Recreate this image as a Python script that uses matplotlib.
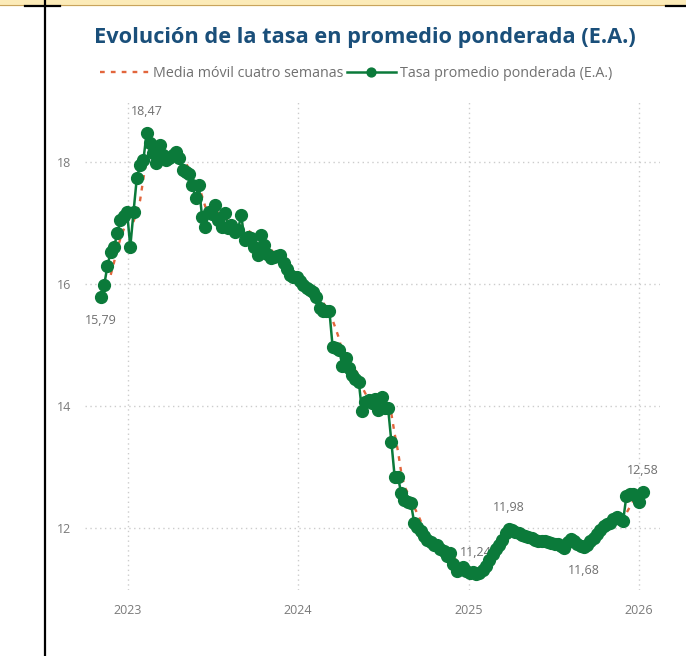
import matplotlib
matplotlib.use("Agg")
import matplotlib.pyplot as plt
import matplotlib.dates as mdates
import pandas as pd

plt.rcParams['font.family'] = ['Open Sans', 'DejaVu Sans']

# weekly weighted average rate (E.A.)
start_date = '2022-11-04'
tasa = [
    15.79, 15.98, 16.30, 16.53, 16.60, 16.83, 17.05, 17.12, 17.19, 16.61,
    17.19, 17.74, 17.95, 18.03, 18.47, 18.31, 18.15, 17.98, 18.28, 18.11,
    18.03, 18.06, 18.12, 18.17, 18.06, 17.87, 17.84, 17.80, 17.62, 17.41,
    17.62, 17.10, 16.94, 17.19, 17.15, 17.30, 17.05, 16.94, 17.16, 16.92,
    16.97, 16.86, 16.89, 17.13, 16.72, 16.78, 16.75, 16.61, 16.48, 16.80,
    16.64, 16.50, 16.42, 16.44, 16.46, 16.48, 16.35, 16.25, 16.15, 16.12,
    16.12, 16.05, 15.98, 15.93, 15.90, 15.87, 15.79, 15.60, 15.55, 15.55,
    15.56, 14.97, 14.95, 14.92, 14.66, 14.78, 14.62, 14.51, 14.45, 14.40,
    13.91, 14.07, 14.10, 14.05, 14.12, 13.93, 14.15, 13.96, 13.96, 13.41,
    12.84, 12.84, 12.57, 12.46, 12.42, 12.40, 12.08, 12.02, 11.94, 11.86,
    11.80, 11.76, 11.72, 11.72, 11.66, 11.62, 11.53, 11.58, 11.40, 11.29,
    11.33, 11.36, 11.30, 11.26, 11.28, 11.24, 11.26, 11.31, 11.38, 11.47,
    11.57, 11.65, 11.72, 11.80, 11.92, 11.98, 11.96, 11.93, 11.91, 11.89,
    11.87, 11.85, 11.83, 11.80, 11.79, 11.79, 11.78, 11.76, 11.75, 11.74,
    11.73, 11.70, 11.67, 11.76, 11.81, 11.78, 11.74, 11.70, 11.68, 11.72,
    11.79, 11.84, 11.90, 11.97, 12.03, 12.06, 12.08, 12.14, 12.18, 12.15,
    12.11, 12.52, 12.55, 12.55, 12.52, 12.43, 12.58,
]

# points that carry a data label: (index, text, side)
etiquetas = [
    (0, '15,79', 'below'),
    (14, '18,47', 'above'),
    (115, '11,24', 'above'),
    (125, '11,98', 'above'),
    (148, '11,68', 'below'),
    (166, '12,58', 'above'),
]

titulo = 'Evolución de la tasa en promedio ponderada (E.A.)'
serie_media = 'Media móvil cuatro semanas'
serie_tasa = 'Tasa promedio ponderada (E.A.)'

VERDE = '#0B7A3A'
NARANJA = '#E2653C'
GRIS = '#707070'


def main():
    fechas = pd.date_range(start_date, periods=len(tasa), freq='7D')
    s = pd.Series(tasa, index=fechas)
    media = s.rolling(4).mean()

    fig = plt.figure(figsize=(6.86, 6.56), dpi=100)
    ax = fig.add_axes([0.124, 0.1006, 0.838, 0.747])

    ax.plot(media.index, media.values, color=NARANJA, lw=1.7,
            ls=(0, (2, 2.6)), zorder=2, label=serie_media)
    ax.plot(s.index, s.values, color=VERDE, lw=1.8, marker='o', ms=8.5,
            zorder=4, label=serie_tasa)

    for i, txt, side in etiquetas:
        dy = 11 if side == 'above' else -12
        ax.annotate(txt, (s.index[i], s.values[i]), xytext=(0, dy),
                    textcoords='offset points', ha='center',
                    va='bottom' if side == 'above' else 'top',
                    fontsize=9, color=GRIS, zorder=3)

    ax.set_ylim(10.98, 19.02)
    ax.set_xlim(pd.Timestamp('2022-10-01'), pd.Timestamp('2026-02-15'))
    ax.set_yticks([12, 14, 16, 18])
    ax.xaxis.set_major_locator(mdates.YearLocator())
    ax.xaxis.set_major_formatter(mdates.DateFormatter('%Y'))
    ax.tick_params(length=0, labelsize=9, labelcolor='#7A7A7A', pad=10)
    ax.grid(True, color='#CCCCCC', ls=(0, (1, 2.5)), lw=1)
    ax.set_axisbelow(True)
    for sp in ax.spines.values():
        sp.set_visible(False)

    fig.text(0.532, 0.943, titulo, ha='center', va='center',
             fontsize=15.7, fontweight='bold', color='#1A4F7A')
    fig.legend(loc='center', bbox_to_anchor=(0.519, 0.888), ncol=2,
               frameon=False, fontsize=10.3, labelcolor=GRIS,
               handlelength=3.4, handletextpad=0.3, columnspacing=0.25,
               markerscale=0.75)

    # page decorations around the visual
    fig.patches.append(plt.Rectangle((0, 1 - 5 / 656), 1, 5 / 656,
                                     transform=fig.transFigure,
                                     color='#FCEBB8', zorder=0))
    fig.add_artist(plt.Line2D([0, 1], [1 - 5 / 656] * 2, color='#C9A45C',
                              lw=0.8, transform=fig.transFigure))
    fig.add_artist(plt.Line2D([45 / 686] * 2, [0, 1], color='black',
                              lw=1.6, transform=fig.transFigure))
    fig.add_artist(plt.Line2D([25 / 686, 60 / 686], [1 - 6 / 656] * 2,
                              color='black', lw=1.6,
                              transform=fig.transFigure))
    fig.add_artist(plt.Line2D([666 / 686, 1], [1 - 6 / 656] * 2,
                              color='black', lw=1.6,
                              transform=fig.transFigure))

    fig.savefig('out.png', dpi=100)


if __name__ == '__main__':
    main()
